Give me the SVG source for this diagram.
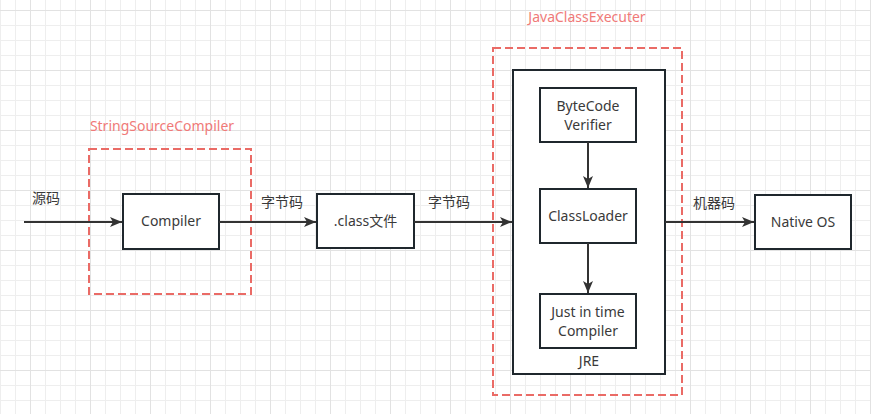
<svg xmlns="http://www.w3.org/2000/svg" width="871" height="414" viewBox="0 0 871 414">
<defs>
<pattern id="minor" x="0" y="10" width="15" height="15" patternUnits="userSpaceOnUse">
<path d="M0.5 0V15M0 0.5H15" fill="none" stroke="#eeeeee" stroke-width="1"/>
</pattern>
<pattern id="major" x="30" y="10" width="60" height="60" patternUnits="userSpaceOnUse">
<path d="M0.5 0V60M0 0.5H60" fill="none" stroke="#e2e2e2" stroke-width="1"/>
</pattern>
<marker id="arr" viewBox="0 0 12 10" refX="12" refY="5" markerWidth="12" markerHeight="10" markerUnits="userSpaceOnUse" orient="auto">
<path d="M0 0L12 5L0 10L3 5Z" fill="#333"/>
</marker>
<style>
.box{fill:#fff;stroke:#1f272d;stroke-width:2}
.grp{fill:none;stroke:#ea6b66;stroke-width:2;stroke-dasharray:8 4}
.t{font-family:"Noto Sans","Noto Sans CJK SC",sans-serif;font-size:14px;fill:#3a3a3a;text-anchor:middle}
.r{font-family:"Noto Sans","Noto Sans CJK SC",sans-serif;font-size:14px;fill:#f07a78;text-anchor:middle}
.e{fill:none;stroke:#333;stroke-width:2}
</style>
</defs>
<rect width="871" height="414" fill="#fff"/>
<rect width="871" height="414" fill="url(#minor)"/>
<rect width="871" height="414" fill="url(#major)"/>

<g id="stringSourceCompiler">
<rect class="grp" x="89" y="149" width="162" height="145"/>
<text class="r" x="162" y="131">StringSourceCompiler</text>
</g>
<g id="javaClassExecuter">
<rect class="grp" x="493" y="48" width="189" height="347"/>
<text class="r" x="587" y="22">JavaClassExecuter</text>
</g>
<g id="jre">
<rect class="box" x="513" y="70" width="152" height="304"/>
<text class="t" x="589" y="366">JRE</text>
</g>
<g id="compiler">
<rect class="box" x="123" y="194" width="96" height="55"/>
<text class="t" x="171" y="226">Compiler</text>
</g>
<g id="classFile">
<rect class="box" x="317" y="194" width="97" height="54"/>
<text class="t" x="365.5" y="226">.class文件</text>
</g>
<g id="bytecodeVerifier">
<rect class="box" x="540" y="88" width="96" height="54"/>
<text class="t" x="588" y="111">ByteCode</text>
<text class="t" x="588" y="130">Verifier</text>
</g>
<g id="classLoader">
<rect class="box" x="540" y="189" width="96" height="54"/>
<text class="t" x="588" y="221">ClassLoader</text>
</g>
<g id="jit">
<rect class="box" x="540" y="294" width="96" height="54"/>
<text class="t" x="588" y="317">Just in time</text>
<text class="t" x="588" y="336">Compiler</text>
</g>
<g id="nativeOS">
<rect class="box" x="755" y="195" width="96" height="54"/>
<text class="t" x="803" y="227">Native OS</text>
</g>

<g id="connectors">
<path class="e" d="M24 222H122" marker-end="url(#arr)"/>
<path class="e" d="M219 222H316" marker-end="url(#arr)"/>
<path class="e" d="M414 222H512" marker-end="url(#arr)"/>
<path class="e" d="M665 222H754" marker-end="url(#arr)"/>
<path class="e" d="M588 142V188" marker-end="url(#arr)"/>
<path class="e" d="M588 243V293" marker-end="url(#arr)"/>
<text class="t" x="46" y="203">源码</text>
<text class="t" x="282" y="207">字节码</text>
<text class="t" x="449" y="207">字节码</text>
<text class="t" x="714" y="208">机器码</text>
</g>
</svg>
